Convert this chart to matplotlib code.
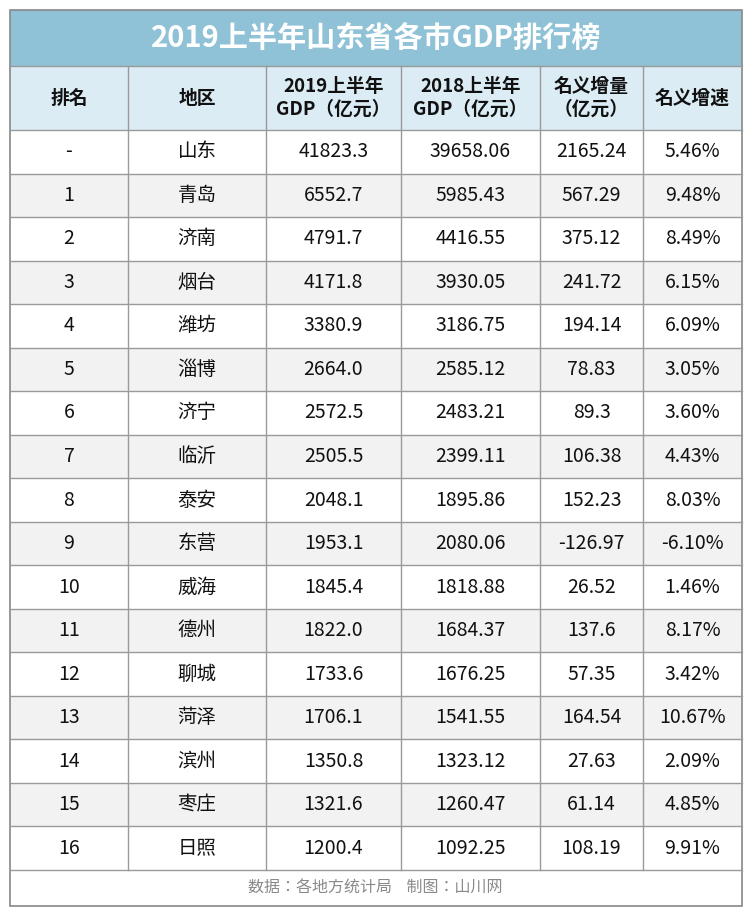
import matplotlib.pyplot as plt
from matplotlib import font_manager as fm
from matplotlib.patches import Rectangle

# make sure a CJK font is registered
cjk = 'Noto Sans CJK SC'
for f in fm.findSystemFonts():
    if 'CJK' in f or 'cjk' in f.lower():
        try:
            fm.fontManager.addfont(f)
        except Exception:
            pass
names = {f.name for f in fm.fontManager.ttflist}
if cjk not in names:
    cands = [n for n in names if 'CJK' in n]
    if cands:
        cjk = sorted(cands)[0]
plt.rcParams['font.family'] = 'sans-serif'
plt.rcParams['font.sans-serif'] = [cjk, 'DejaVu Sans']

TITLE = "2019上半年山东省各市GDP排行榜"
HEADERS = ["排名", "地区", "2019上半年\nGDP（亿元）", "2018上半年\nGDP（亿元）", "名义增量\n（亿元）", "名义增速"]
RANKS = ["-", "1", "2", "3", "4", "5", "6", "7", "8", "9", "10", "11", "12", "13", "14", "15", "16"]
REGIONS = ["山东", "青岛", "济南", "烟台", "潍坊", "淄博", "济宁", "临沂", "泰安", "东营",
           "威海", "德州", "聊城", "菏泽", "滨州", "枣庄", "日照"]
GDP_2019 = ["41823.3", "6552.7", "4791.7", "4171.8", "3380.9", "2664.0", "2572.5", "2505.5",
            "2048.1", "1953.1", "1845.4", "1822.0", "1733.6", "1706.1", "1350.8", "1321.6", "1200.4"]
GDP_2018 = ["39658.06", "5985.43", "4416.55", "3930.05", "3186.75", "2585.12", "2483.21", "2399.11",
            "1895.86", "2080.06", "1818.88", "1684.37", "1676.25", "1541.55", "1323.12", "1260.47", "1092.25"]
INCREASE = ["2165.24", "567.29", "375.12", "241.72", "194.14", "78.83", "89.3", "106.38",
            "152.23", "-126.97", "26.52", "137.6", "57.35", "164.54", "27.63", "61.14", "108.19"]
GROWTH = ["5.46%", "9.48%", "8.49%", "6.15%", "6.09%", "3.05%", "3.60%", "4.43%",
          "8.03%", "-6.10%", "1.46%", "8.17%", "3.42%", "10.67%", "2.09%", "4.85%", "9.91%"]
FOOTER = "数据：各地方统计局    制图：山川网"

W, H = 750, 917
fig = plt.figure(figsize=(7.5, 9.17), dpi=100)
ax = fig.add_axes([0, 0, 1, 1])
ax.set_xlim(0, W)
ax.set_ylim(H, 0)
ax.axis('off')

xs = [10, 128, 266, 401, 540, 643, 742]
top, title_b, head_b, body_b, bottom = 10, 66, 130, 870, 906
n = len(RANKS)
rh = (body_b - head_b) / n
line = '#9a9a9a'

ax.add_patch(Rectangle((xs[0], top), xs[-1] - xs[0], title_b - top, facecolor='#8fc2d7', edgecolor='none'))
ax.text((xs[0] + xs[-1]) / 2, (top + title_b) / 2, TITLE, ha='center', va='center',
        fontsize=21, fontweight='bold', color='white')
ax.add_patch(Rectangle((xs[0], title_b), xs[-1] - xs[0], head_b - title_b, facecolor='#dbecf4', edgecolor='none'))
for i, h in enumerate(HEADERS):
    ax.text((xs[i] + xs[i + 1]) / 2, (title_b + head_b) / 2, h, ha='center', va='center',
            fontsize=13.5, fontweight='bold', color='#111111', linespacing=1.25)

cols = [RANKS, REGIONS, GDP_2019, GDP_2018, INCREASE, GROWTH]
for r in range(n):
    y0 = head_b + r * rh
    if r % 2 == 1:
        ax.add_patch(Rectangle((xs[0], y0), xs[-1] - xs[0], rh, facecolor='#f2f2f2', edgecolor='none'))
    for c, col in enumerate(cols):
        ax.text((xs[c] + xs[c + 1]) / 2, y0 + rh / 2, col[r], ha='center', va='center',
                fontsize=14, color='#111111')
    ax.plot([xs[0], xs[-1]], [y0, y0], color=line, lw=1)
ax.plot([xs[0], xs[-1]], [body_b, body_b], color=line, lw=1)
ax.plot([xs[0], xs[-1]], [title_b, title_b], color=line, lw=1)
for x in xs[1:-1]:
    ax.plot([x, x], [title_b, body_b], color=line, lw=1)

ax.text(375, (body_b + bottom) / 2, FOOTER, ha='center', va='center', fontsize=11.5, color='#8a8a8a')
ax.add_patch(Rectangle((xs[0], top), xs[-1] - xs[0], bottom - top, facecolor='none', edgecolor='#888888', lw=1.2))

fig.savefig('out.png', dpi=100)
